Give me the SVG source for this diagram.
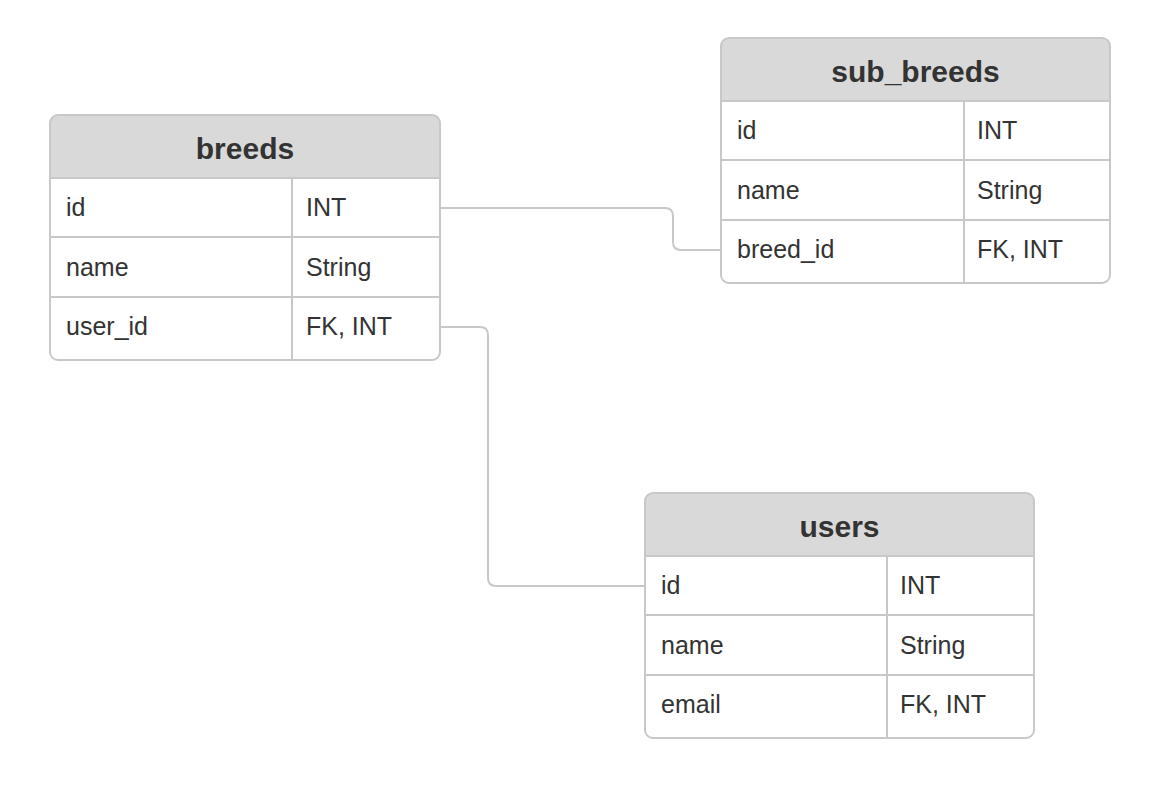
<svg xmlns="http://www.w3.org/2000/svg" width="1156" height="807" viewBox="0 0 1156 807">
<style>
.frame{fill:none;stroke:#c8c8c8;stroke-width:2}
.head{fill:#d9d9d9}
.ln{stroke:#c8c8c8;stroke-width:2;fill:none}
.title{font-family:'Liberation Sans',Helvetica,sans-serif;font-weight:bold;font-size:30px;fill:#333333;text-anchor:middle}
.cell{font-family:'Liberation Sans',Helvetica,sans-serif;font-size:25px;fill:#333333}
.conn{stroke:#c8c8c8;stroke-width:2;fill:none}
</style>
<rect width="1156" height="807" fill="#ffffff"/>
<g id="connectors">
<path class="conn" d="M440 208 H665 Q673 208 673 216 V242 Q673 250 681 250 H721"/>
<path class="conn" d="M440 327 H480 Q488 327 488 335 V578 Q488 586 496 586 H645"/>
</g>
<g id="breeds">
<path class="head" d="M50 178 V123 Q50 115 58 115 H432 Q440 115 440 123 V178 Z"/>
<rect class="frame" x="50" y="115" width="390" height="245" rx="8"/>
<line class="ln" x1="50" y1="178" x2="440" y2="178"/>
<line class="ln" x1="50" y1="237" x2="440" y2="237"/>
<line class="ln" x1="50" y1="297" x2="440" y2="297"/>
<line class="ln" x1="292" y1="178" x2="292" y2="360"/>
<text class="title" x="245" y="159">breeds</text>
<text class="cell" x="66" y="216">id</text>
<text class="cell" x="306" y="216">INT</text>
<text class="cell" x="66" y="276">name</text>
<text class="cell" x="306" y="276">String</text>
<text class="cell" x="66" y="335">user_id</text>
<text class="cell" x="306" y="335">FK, INT</text>
</g>
<g id="sub_breeds">
<path class="head" d="M721 101 V46 Q721 38 729 38 H1102 Q1110 38 1110 46 V101 Z"/>
<rect class="frame" x="721" y="38" width="389" height="245" rx="8"/>
<line class="ln" x1="721" y1="101" x2="1110" y2="101"/>
<line class="ln" x1="721" y1="160" x2="1110" y2="160"/>
<line class="ln" x1="721" y1="220" x2="1110" y2="220"/>
<line class="ln" x1="964" y1="101" x2="964" y2="283"/>
<text class="title" x="915.5" y="82">sub_breeds</text>
<text class="cell" x="737" y="139">id</text>
<text class="cell" x="977" y="139">INT</text>
<text class="cell" x="737" y="199">name</text>
<text class="cell" x="977" y="199">String</text>
<text class="cell" x="737" y="258">breed_id</text>
<text class="cell" x="977" y="258">FK, INT</text>
</g>
<g id="users">
<path class="head" d="M645 556 V501 Q645 493 653 493 H1026 Q1034 493 1034 501 V556 Z"/>
<rect class="frame" x="645" y="493" width="389" height="245" rx="8"/>
<line class="ln" x1="645" y1="556" x2="1034" y2="556"/>
<line class="ln" x1="645" y1="615" x2="1034" y2="615"/>
<line class="ln" x1="645" y1="675" x2="1034" y2="675"/>
<line class="ln" x1="887" y1="556" x2="887" y2="738"/>
<text class="title" x="839.5" y="537">users</text>
<text class="cell" x="661" y="594">id</text>
<text class="cell" x="900" y="594">INT</text>
<text class="cell" x="661" y="654">name</text>
<text class="cell" x="900" y="654">String</text>
<text class="cell" x="661" y="713">email</text>
<text class="cell" x="900" y="713">FK, INT</text>
</g>
</svg>
